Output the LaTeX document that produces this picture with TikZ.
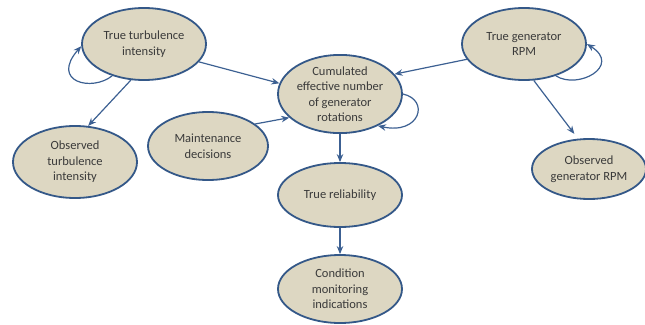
\documentclass[tikz,border=0pt]{standalone}
\usepackage{fontspec}
\setmainfont{Carlito}
\usetikzlibrary{arrows.meta,shapes.geometric}
\definecolor{nodefill}{RGB}{221,215,194}
\definecolor{nodeline}{RGB}{52,88,136}
\definecolor{edgeline}{RGB}{60,96,146}
\definecolor{labeltext}{RGB}{58,58,58}
\begin{document}
\begin{tikzpicture}[x=1pt,y=-1pt,
  state/.style={ellipse, draw=nodeline, line width=1.8pt, fill=nodefill,
    minimum width=2*#1, inner sep=0pt, align=center, text=labeltext,
    font=\fontsize{12.5}{15.5}\selectfont},
  state/.default=62pt,
  link/.style={draw=edgeline, line width=1.2pt, -{Stealth[length=8pt,width=6.5pt]}}]
\useasboundingbox (0,0) rectangle (645,324);
% states
\node[state, minimum height=72pt] (tti) at (144,44) {True turbulence\\intensity};
\node[state, minimum height=68pt] (cum) at (340,94) {Cumulated\\effective number\\of generator\\rotations};
\node[state, minimum height=72pt] (tgr) at (524,44) {True generator\\RPM};
\node[state, minimum height=72pt] (oti) at (75,162) {Observed\\turbulence\\intensity};
\node[state=60pt, minimum height=68pt] (mnt) at (208,146) {Maintenance\\decisions};
\node[state=57pt, minimum height=60pt] (ogr) at (589,169) {Observed\\generator RPM};
\node[state, minimum height=64pt] (rel) at (340,195) {True reliability};
\node[state, minimum height=68pt] (cmi) at (340,289) {Condition\\monitoring\\indications};
% influences
\draw[link] (tti.-18) -- (cum.170);
\draw[link] (tti.-110) -- (oti.70);
\draw[link] (tgr.195) -- (cum.20);
\draw[link, shorten >=6pt] (tgr.-75) -- (ogr.110);
\draw[link] (mnt.25) -- (cum.205);
\draw[link] (cum.south) -- (rel.north);
\draw[link] (rel.south) -- (cmi.north);
% persistence loops
\draw[link] (tti.-135) .. controls (92,92) and (50,82) .. (tti.182);
\draw[link] (tgr.-45) .. controls (578,90) and (622,66) .. (tgr.0);
\draw[link] (cum.0) .. controls (430,100) and (420,135) .. (cum.-40);
\end{tikzpicture}
\end{document}
